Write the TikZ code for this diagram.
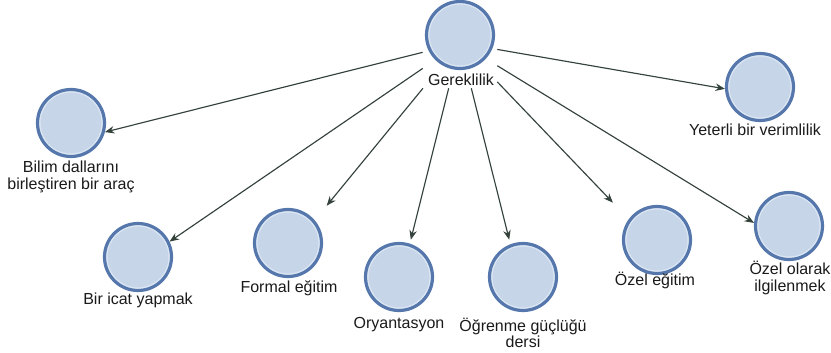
\documentclass[tikz,border=0pt]{standalone}
\usepackage{fontspec}
\setmainfont{Liberation Sans}
\usetikzlibrary{arrows.meta,fit}
\definecolor{ringblue}{HTML}{5577AC}
\definecolor{ringlight}{HTML}{DCE7F4}
\definecolor{discfill}{HTML}{C7D5E9}
\definecolor{linkgray}{HTML}{34423C}
\definecolor{textdark}{HTML}{1A1A1A}
\tikzset{
  disc/.style={circle, minimum size=67pt, inner sep=0pt, draw=ringblue, line width=3.2pt, fill=discfill,
    path picture={\draw[ringlight, line width=1.6pt] (path picture bounding box.center) circle (31.3pt);}},
  caption/.style={font=\fontsize{16}{16.5}\selectfont, text=textdark, align=center, inner sep=0pt},
  group/.style={inner sep=2pt, draw=none},
  link/.style={draw=linkgray, line width=1.15pt, -{Stealth[length=9.5pt,width=7.5pt]}}
}
\begin{document}
\begin{tikzpicture}[x=1pt,y=-1pt]
  \useasboundingbox (0,0) rectangle (831,353);
  % hub
  \node[disc] (cG) at (460,35) {};
  \node[caption] (tG) at (461,80) {Gereklilik};
  % targets
  \node[disc] (cB) at (71,123) {};
  \node[caption] (tB) at (71,177) {Bilim dallarını\\birleştiren bir araç};
  \node[disc] (cY) at (760,87) {};
  \node[caption] (tY) at (755,130) {Yeterli bir verimlilik};
  \node[disc] (cI) at (138,257) {};
  \node[caption] (tI) at (138,300) {Bir icat yapmak};
  \node[disc] (cF) at (288,243) {};
  \node[caption] (tF) at (289,288) {Formal eğitim};
  \node[disc] (cO) at (399,277) {};
  \node[caption] (tO) at (399,325) {Oryantasyon};
  \node[disc] (cL) at (523,277) {};
  \node[caption] (tL) at (523,333) {Öğrenme güçlüğü\\dersi};
  \node[disc] (cE) at (657,240) {};
  \node[caption] (tE) at (655,280) {Özel eğitim};
  \node[disc] (cS) at (789,226) {};
  \node[caption] (tS) at (790,278) {Özel olarak\\ilgilenmek};
  % groups of circle plus caption, used as connector ends
  \node[group, fit=(cG)(tG)] (gG) {};
  \node[group, fit=(cF)(tF)] (gF) {};
  \node[group, fit=(cO)(tO)] (gO) {};
  \node[group, fit=(cL)(tL)] (gL) {};
  \node[group, fit=(cE)(tE)] (gE) {};
  % connectors
  \draw[link] (gG) -- (cB.-15);
  \draw[link] (gG) -- (cI.26);
  \draw[link] (gG) -- (gF);
  \draw[link] (gG) -- (gO);
  \draw[link] (gG) -- (gL);
  \draw[link] (gG) -- (gE);
  \draw[link] (gG) -- (cS.175);
  \draw[link] (gG) -- (cY.183);
\end{tikzpicture}
\end{document}
